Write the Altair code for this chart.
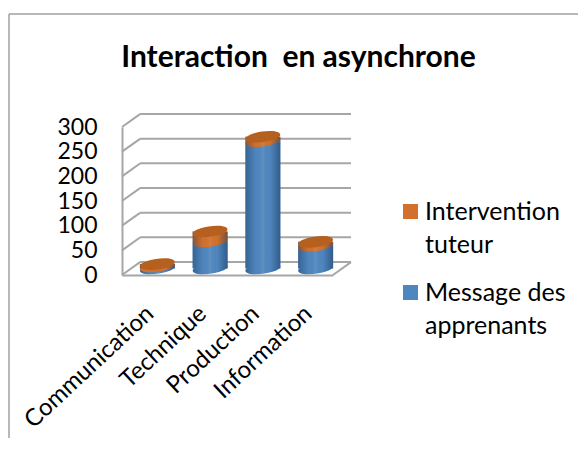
import altair as alt
import pandas as pd

categories = ["Communication", "Technique", "Production", "Information"]
messages = [4, 55, 258, 46]
interventions = [5, 20, 9, 8]
grid_values = [0, 50, 100, 150, 200, 250, 300]
series_names = ["Intervention tuteur", "Message des apprenants"]
series_colors = ["#D2702C", "#4F86BD"]
DEPTH_UNITS = 26  # wall depth expressed in value units

df = pd.DataFrame({"cat": categories, "m": messages, "i": interventions})
df["t"] = df["m"] + df["i"]
df["zero"] = 0
long_rows = pd.DataFrame(
    [{"cat": c, "series": series_names[1], "y0": 0, "y1": m} for c, m in zip(categories, messages)]
    + [{"cat": c, "series": series_names[0], "y0": m, "y1": m + i} for c, m, i in zip(categories, messages, interventions)]
)
grid = pd.DataFrame({"v": grid_values})
grid["back"] = grid["v"] + DEPTH_UNITS
floor = pd.DataFrame({"v": [0], "back": [DEPTH_UNITS]})

ELLIPSE = "M-0.99,0.14 A1,0.3 -8 1,1 0.99,-0.14 A1,0.3 -8 1,1 -0.99,0.14 Z"
SIZE = 35 ** 2
DX, DY = 9, -6.5
WALL = "#A6A6A6"

x = alt.X("cat:N", sort=categories, scale=alt.Scale(domain=categories, paddingInner=0, paddingOuter=0),
          axis=alt.Axis(title=None, labelAngle=-43, labelFontSize=24, labelFont="Lato", labelColor="#000000",
                        labelOverlap=False, ticks=False, domainColor=WALL, domainWidth=2, labelPadding=35,
                        labelOffset=2, labelAlign="right", labelBaseline="middle", labelLimit=300))
y_scale = alt.Scale(domain=[0, 300], nice=False)
y_axis = alt.Axis(title=None, values=grid_values, labelFontSize=23, labelFont="Lato", labelColor="#000000",
                  labelOverlap=False, ticks=False, domainColor=WALL, domainWidth=2, labelPadding=25, grid=False)


def yq(field):
    return alt.Y(field, scale=y_scale, axis=y_axis)


shade = alt.Gradient(gradient="linear", x1=0, x2=1, y1=0, y2=0, stops=[
    alt.GradientStop(offset=0, color="rgba(20,50,90,0.42)"),
    alt.GradientStop(offset=0.3, color="rgba(20,50,90,0.0)"),
    alt.GradientStop(offset=0.5, color="rgba(255,255,255,0.08)"),
    alt.GradientStop(offset=0.7, color="rgba(20,50,90,0.0)"),
    alt.GradientStop(offset=1, color="rgba(20,50,90,0.5)"),
])

back_lines = alt.Chart(grid).mark_rule(color=WALL, strokeWidth=2, yOffset=-13).encode(
    x=alt.value(18), x2=alt.value(229), y=yq("v:Q"))
side_lines = alt.Chart(grid).mark_rule(color=WALL, strokeWidth=2).encode(
    x=alt.value(0), x2=alt.value(18), y=yq("v:Q"), y2="back:Q")
floor_side = alt.Chart(floor).mark_rule(color=WALL, strokeWidth=2).encode(
    x=alt.value(211), x2=alt.value(229), y=yq("v:Q"), y2="back:Q")

base_el = alt.Chart(df).mark_point(shape=ELLIPSE, filled=True, opacity=1, size=SIZE, color=series_colors[1],
                                   xOffset=DX, yOffset=DY).encode(x=x, y=yq("zero:Q"))
base_sh = alt.Chart(df).mark_point(shape=ELLIPSE, filled=True, opacity=1, size=SIZE, fill=shade, strokeWidth=0,
                                   xOffset=DX, yOffset=DY).encode(x=x, y=yq("zero:Q"))
bars = alt.Chart(long_rows).mark_bar(size=35, xOffset=DX, yOffset=DY, y2Offset=DY).encode(
    x=x, y=yq("y1:Q"), y2="y0:Q",
    color=alt.Color("series:N", scale=alt.Scale(domain=series_names, range=series_colors),
                    legend=alt.Legend(title=None, orient="none", legendX=276, legendY=72, symbolType="square",
                                      symbolSize=225, symbolStrokeWidth=0, labelFont="Lato", labelFontSize=25,
                                      labelColor="#000000", labelLimit=300, rowPadding=22, labelOffset=2,
                                      labelExpr="datum.label=='Intervention tuteur'?['Intervention','tuteur']:['Message des','apprenants']")))
rim = alt.Chart(df).mark_point(shape=ELLIPSE, filled=True, opacity=1, size=SIZE, color=series_colors[0],
                               xOffset=DX, yOffset=DY).encode(x=x, y=yq("m:Q"))
bars_sh = alt.Chart(df).mark_bar(size=35, xOffset=DX, yOffset=DY, y2Offset=DY, fill=shade).encode(
    x=x, y=yq("t:Q"), y2="zero:Q")
top = alt.Chart(df).mark_point(shape=ELLIPSE, filled=True, opacity=1, size=SIZE, color="#B5601F",
                               xOffset=DX, yOffset=DY).encode(x=x, y=yq("t:Q"))

frame_left = alt.Chart(floor).mark_rule(color="#A0A0A0", strokeWidth=1.5).encode(
    x=alt.value(-113), y=alt.value(-113), y2=alt.value(311))
frame_top = alt.Chart(floor).mark_rule(color="#A0A0A0", strokeWidth=1.5).encode(
    x=alt.value(-113), x2=alt.value(456), y=alt.value(-113))

chart = alt.layer(frame_left, frame_top, back_lines, side_lines, floor_side, base_el, base_sh, bars, rim,
                  bars_sh, top).properties(
    width=211, height=148,
    padding={"left": 114, "top": 119, "right": 245, "bottom": 163},
    autosize=alt.AutoSizeParams(type="none"),
    title=alt.TitleParams("Interaction \u00a0en asynchrone", font="Lato", fontSize=30, fontWeight="bold", color="#000000",
                          anchor="middle", frame="group", dx=71, offset=-60),
).configure_view(strokeWidth=0).configure_axis(labelOverlap=False, labelBound=False, labelFlush=False)
chart.config.style = {"guide-label": {"lineHeight": 33}}

chart.save("out.html", embed_options={"renderer": "svg", "actions": False})
